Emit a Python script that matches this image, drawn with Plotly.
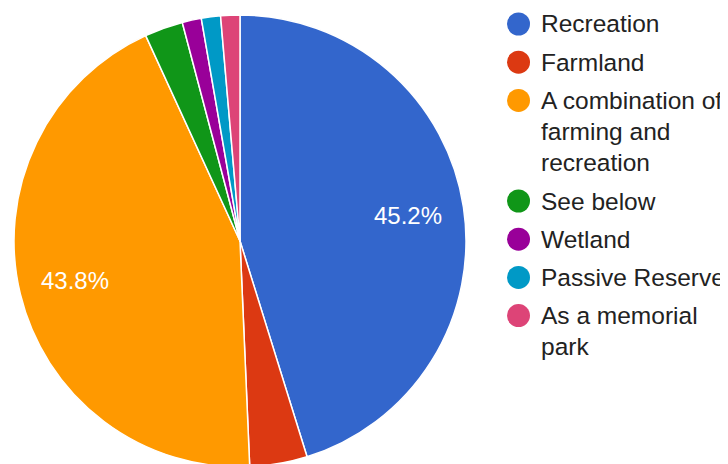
import math
import plotly.graph_objects as go

labels = ["Recreation", "Farmland", "A combination of farming and recreation",
          "See below", "Wetland", "Passive Reserve", "As a memorial park"]
legend_lines = [["Recreation"], ["Farmland"], ["A combination of", "farming and", "recreation"],
                ["See below"], ["Wetland"], ["Passive Reserve"], ["As a memorial", "park"]]
counts = [33, 3, 32, 2, 1, 1, 1]
colors = ["#3366cc", "#dc3912", "#ff9900", "#109618", "#990099", "#0099c6", "#dd4477"]
show_label = [True, False, True, False, False, False, False]

W, H = 728, 464
OFF = 8  # page body margin offset
cx, cy, r = 240 - OFF, 241 - OFF, 226

fig = go.Figure(go.Pie(
    labels=labels, values=counts, sort=False, direction="clockwise", rotation=0,
    marker=dict(colors=colors, line=dict(color="white", width=1.5)),
    textinfo="none",
    showlegend=False, hoverinfo="label+percent",
    domain=dict(x=[max(0, (cx - r) / W), min(1, (cx + r) / W)],
                y=[max(0.0, (H - cy - r) / H), min(1.0, (H - cy + r) / H)]),
))

# percentage labels on the large slices
total = sum(counts)
cum = 0
for v, s in zip(counts, show_label):
    mid = (cum + v / 2) / total * 2 * math.pi
    cum += v
    if not s:
        continue
    d = 0.75 * r
    px = cx + d * math.sin(mid)
    py = cy - d * math.cos(mid)
    fig.add_annotation(x=px / W, y=(H - py) / H, xref="paper", yref="paper",
                       text=f"{v / total * 100:.1f}%", showarrow=False,
                       xanchor="center", yanchor="middle",
                       font=dict(family="Liberation Sans, Arial", size=24, color="white"))

# custom legend
lx_circle, lx_text = 518.5 - OFF, 539 - OFF
y0, item_gap, line_gap = 24 - OFF, 38.2, 31.2
y = y0
for lines, col in zip(legend_lines, colors):
    fig.add_shape(type="circle", xref="paper", yref="paper",
                  x0=(lx_circle - 11.5) / W, x1=(lx_circle + 11.5) / W,
                  y0=(H - y - 11.5) / H, y1=(H - y + 11.5) / H,
                  fillcolor=col, line=dict(width=0))
    for i, ln in enumerate(lines):
        yy = y + i * line_gap
        fig.add_annotation(x=lx_text / W, y=(H - yy) / H, xref="paper", yref="paper",
                           text=ln, showarrow=False, xanchor="left", yanchor="middle",
                           font=dict(family="Liberation Sans, Arial", size=24.5, color="#222222"))
    y += (len(lines) - 1) * line_gap + item_gap

fig.update_layout(width=W, height=H, margin=dict(l=0, r=0, t=0, b=0),
                  paper_bgcolor="white", plot_bgcolor="white")
fig.write_html("out.html")
